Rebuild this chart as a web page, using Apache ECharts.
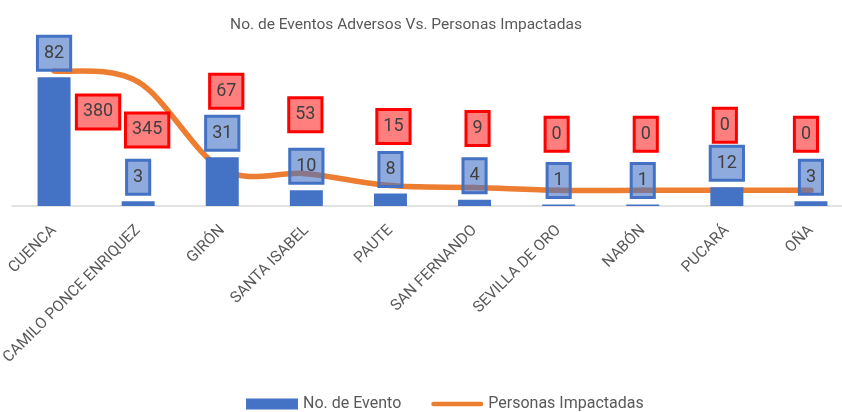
<!DOCTYPE html>
<html>
<head>
<meta charset="utf-8">
<script src="https://cdn.jsdelivr.net/npm/echarts@6/dist/echarts.min.js"></script>
<style>html,body{margin:0;padding:0;background:#fff}#main{width:842px;height:412px}</style>
</head>
<body>
<div id="main"></div>
<script>
const cantones = ['CUENCA', 'CAMILO PONCE ENRIQUEZ', 'GIRÓN', 'SANTA ISABEL', 'PAUTE', 'SAN FERNANDO', 'SEVILLA DE ORO', 'NABÓN', 'PUCARÁ', 'OÑA'];
const eventos = [82, 3, 31, 10, 8, 4, 1, 1, 12, 3];
const personas = [380, 345, 67, 53, 15, 9, 0, 0, 0, 0];
// etiquetas rojas movidas a mano (como en el Excel original)
const offsetsPersonas = [[44, 41], [9, 48], [4, -78], [-1, -59], [3, -59], [3, -59], [-2, -56], [3, -56], [-2, -65], [-5, -56]];

const FONT = 'Roboto, sans-serif';
const chart = echarts.init(document.getElementById('main'));

// curva suavizada tipo Excel (Catmull-Rom), tramo i -> i+1
const curvaExcel = function (params, api) {
  const i = params.dataIndex;
  const n = personas.length;
  if (i >= n - 1) return null;
  const pt = k => {
    k = Math.max(0, Math.min(n - 1, k));
    return api.coord([k, personas[k]]);
  };
  const p0 = pt(i - 1), p1 = pt(i), p2 = pt(i + 1), p3 = pt(i + 2);
  return {
    type: 'bezierCurve',
    silent: true,
    shape: {
      x1: p1[0], y1: p1[1],
      cpx1: p1[0] + (p2[0] - p0[0]) / 6, cpy1: p1[1] + (p2[1] - p0[1]) / 6,
      cpx2: p2[0] - (p3[0] - p1[0]) / 6, cpy2: p2[1] - (p3[1] - p1[1]) / 6,
      x2: p2[0], y2: p2[1]
    },
    style: { fill: null, stroke: '#ED7D31', lineWidth: 5.5, lineCap: 'round' }
  };
};

const cajaLabel = {
  show: true,
  fontFamily: FONT,
  fontSize: 18,
  lineHeight: 18,
  color: '#404040',
  borderWidth: 1.5,
  padding: [8, 6.5, 8, 6.5]
};

const option = {
  animation: false,
  title: {
    text: 'No. de Eventos Adversos Vs. Personas Impactadas',
    left: 401,
    textAlign: 'center',
    top: 12,
    textStyle: { fontFamily: FONT, fontSize: 15.5, fontWeight: 'normal', color: '#595959' }
  },
  legend: {
    left: 241,
    top: 391,
    itemWidth: 52,
    itemHeight: 11,
    itemGap: 30,
    itemTextGap: 6,
    textStyle: { fontFamily: FONT, fontSize: 16, color: '#595959' },
    data: [
      { name: 'No. de Evento', icon: 'rect', itemStyle: { color: '#4472C4' } },
      { name: 'Personas Impactadas', icon: 'path://M2.5,0 L53.5,0 A2.5,2.5 0 0 1 53.5,5 L2.5,5 A2.5,2.5 0 0 1 2.5,0 Z', itemStyle: { color: '#ED7D31' } }
    ]
  },
  grid: { left: 12, top: 49, width: 841, height: 157, outerBoundsMode: 'none' },
  xAxis: {
    type: 'category',
    data: cantones,
    axisTick: { show: false },
    axisLine: { lineStyle: { color: '#D9D9D9', width: 1.5 } },
    axisLabel: { rotate: 45, margin: 22, interval: 0, fontFamily: FONT, fontSize: 15.5, color: '#595959' }
  },
  yAxis: [
    { type: 'value', min: 0, max: 100, show: false },
    { type: 'value', min: -50, max: 450, show: false }
  ],
  series: [
    {
      name: 'No. de Evento',
      type: 'bar',
      data: eventos,
      barWidth: 33,
      z: 2,
      itemStyle: { color: '#4472C4' },
      label: Object.assign({}, cajaLabel, {
        position: 'top',
        distance: 7,
        backgroundColor: 'rgba(68,114,196,0.6)',
        borderColor: '#4472C4'
      })
    },
    {
      name: 'Personas Impactadas',
      type: 'custom',
      yAxisIndex: 1,
      z: 2,
      data: personas.map((v, i) => [i, v]),
      encode: { x: 0, y: 1 },
      renderItem: curvaExcel
    },
    {
      name: 'Personas Impactadas',
      type: 'line',
      yAxisIndex: 1,
      z: 2,
      symbol: 'circle',
      symbolSize: 1,
      itemStyle: { color: 'rgba(0,0,0,0)' },
      lineStyle: { opacity: 0 },
      data: personas.map((v, i) => ({ value: v, label: { offset: offsetsPersonas[i] } })),
      label: Object.assign({}, cajaLabel, {
        position: 'inside',
        backgroundColor: 'rgba(255,0,0,0.5)',
        borderColor: '#FF0000'
      })
    }
  ]
};

chart.setOption(option);
</script>
</body>
</html>
